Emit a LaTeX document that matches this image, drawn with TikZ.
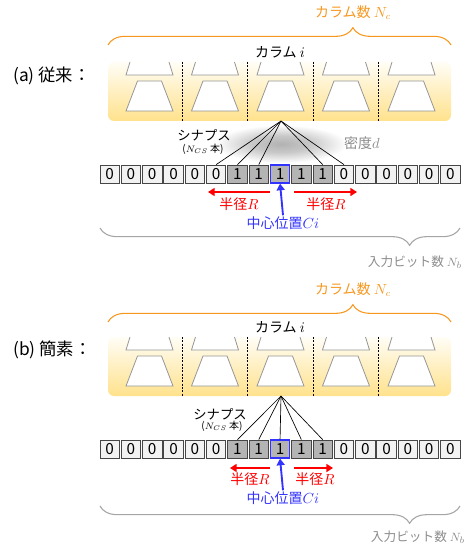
\documentclass[tikz,border=0pt]{standalone}
\usepackage{fontspec}
\usepackage{xcolor}
\usetikzlibrary{arrows.meta,decorations.pathreplacing}
\newfontfamily\jp{Noto Sans CJK JP}

\definecolor{colorange}{RGB}{246,152,32}
\definecolor{bitred}{RGB}{255,0,0}
\definecolor{bitblue}{RGB}{51,51,255}
\definecolor{txtgray}{RGB}{140,140,140}
\definecolor{bracegray}{RGB}{165,165,165}
\definecolor{coltop}{RGB}{255,253,246}
\definecolor{colbot}{RGB}{255,226,140}
\definecolor{densin}{RGB}{178,178,178}
\definecolor{densmid}{RGB}{200,200,200}

\pgfdeclareradialshading{density}{\pgfpoint{0bp}{0bp}}{color(0bp)=(densin); color(11bp)=(densmid); color(25bp)=(white); color(50bp)=(white)}

\tikzset{
  bit/.style={draw={rgb,255:red,70;green,70;blue,70}, line width=0.6pt, minimum width=14.5pt, minimum height=13.5pt, inner sep=0pt, font=\jp\fontsize{11.5}{12}\selectfont},
  bitzero/.style={bit, fill={rgb,255:red,242;green,242;blue,242}},
  bitone/.style={bit, fill={rgb,255:red,180;green,180;blue,180}},
  bitcenter/.style={bitone, draw=bitblue, line width=0.9pt},
  neuron/.style={draw={rgb,255:red,150;green,150;blue,150}, fill=white, line width=0.6pt},
  divider/.style={dash pattern=on 1.5pt off 1pt, line width=0.6pt},
  synapse/.style={line width=0.5pt},
  radarrow/.style={bitred, line width=1.4pt, -{Triangle[length=5pt,width=6pt]}},
  cenarrow/.style={bitblue, line width=1.4pt, -{Triangle[length=5pt,width=6pt]}},
  jtext/.style={inner sep=0.75pt, font=\jp\fontsize{10.5}{12}\selectfont},
}

\begin{document}
\begin{tikzpicture}[x=0.75pt,y=0.75pt,yscale=-1,xscale=1]
\useasboundingbox (0,0) rectangle (472,549);

%Shape: synapse density
\shade[shading=density] (281,144) ellipse [x radius=66, y radius=19];

%Shape: column blocks, neurons and dividers, for (a) and (b)
\foreach \oy in {0,275}{
  \shade[top color=coltop, bottom color=colbot, rounded corners=4.5pt] (108,62+\oy) -- (451,62+\oy) -- (451,121+\oy) -- (108,121+\oy) -- cycle;
  \foreach \cx in {149.5,215,280.5,346,411.5}{
    \draw[neuron] (\cx-19.5,62+\oy) -- (\cx-23.5,75+\oy) -- (\cx+23.5,75+\oy) -- (\cx+19.5,62+\oy);
    \draw[neuron] (\cx-12,81+\oy) -- (\cx+12,81+\oy) -- (\cx+23.5,111+\oy) -- (\cx-23.5,111+\oy) -- cycle;
  }
  \foreach \dx in {182.25,247.75,313.25,378.75}
    \draw[divider] (\dx,62+\oy) -- (\dx,121+\oy);
}

%Shape: input bits
\foreach \p/\oy in {a/0,b/275}{
  \foreach \s/\v [count=\k from 0] in {bitzero/0,bitzero/0,bitzero/0,bitzero/0,bitzero/0,bitzero/0,bitone/1,bitone/1,bitcenter/1,bitone/1,bitone/1,bitzero/0,bitzero/0,bitzero/0,bitzero/0,bitzero/0,bitzero/0}
    \node[\s] (\p\k) at ({109.65+21.3*\k},{174+\oy}) {\v};
}

\coordinate (hubA) at (281,121);
\coordinate (hubB) at (281,396);

% synapses
\foreach \k in {5,6,7,10,11}
  \draw[synapse] (hubA) -- (a\k.north);
\foreach \k in {6,...,10}
  \draw[synapse] (hubB) -- (b\k.north);

% Text Node (a)
\node[jtext, text=colorange] (ncA) at (353,13) {カラム数 $N_c$};
\node[jtext] (colA) at (280,52) {カラム $i$};
\node[jtext, anchor=west, font=\jp\fontsize{13}{15}\selectfont] (lblA) at (12,76) {(a) 従来：};
\node[jtext, font=\jp\fontsize{10}{12}\selectfont] (synA) at (204,135) {シナプス};
\node[jtext, font=\jp\fontsize{7.5}{9}\selectfont] (ncsA) at (203,149) {($N_{CS}$ 本)};
\node[jtext, text=txtgray] (dA) at (362,143) {密度$d$};
\node[jtext, text=bitred] (rlA) at (239,204) {半径$R$};
\node[jtext, text=bitred] (rrA) at (326,204) {半径$R$};
\node[jtext, text=bitblue] (ciA) at (283,223) {中心位置$Ci$};
\node[jtext, text=txtgray, font=\jp\fontsize{9.5}{11}\selectfont] (nbA) at (415,262) {入力ビット数 $N_b$};

% Text Node (b)
\node[jtext, text=colorange] (ncB) at (353,290) {カラム数 $N_c$};
\node[jtext] (colB) at (280,327) {カラム $i$};
\node[jtext, anchor=west, font=\jp\fontsize{13}{15}\selectfont] (lblB) at (12,350) {(b) 簡素：};
\node[jtext, font=\jp\fontsize{10}{12}\selectfont] (synB) at (220,414) {シナプス};
\node[jtext, font=\jp\fontsize{7.5}{9}\selectfont] (ncsB) at (222,426) {($N_{CS}$ 本)};
\node[jtext, text=bitred] (rlB) at (250,479) {半径$R$};
\node[jtext, text=bitred] (rrB) at (315,479) {半径$R$};
\node[jtext, text=bitblue] (ciB) at (283,498) {中心位置$Ci$};
\node[jtext, text=txtgray, font=\jp\fontsize{9.5}{11}\selectfont] (nbB) at (418,537) {入力ビット数 $N_b$};

% radius and centre arrows
\coordinate (rlA0) at (270,192); \coordinate (rlA1) at (208,192);
\coordinate (rrA0) at (294,192); \coordinate (rrA1) at (357,192);
\draw[radarrow] (rlA0) -- (rlA1);
\draw[radarrow] (rrA0) -- (rrA1);
\draw[cenarrow] (ciA.north) -- (a8.south);

\coordinate (rlB0) at (270,468); \coordinate (rlB1) at (230,468);
\coordinate (rrB0) at (294,468); \coordinate (rrB1) at (333,468);
\draw[radarrow] (rlB0) -- (rlB1);
\draw[radarrow] (rrB0) -- (rrB1);
\draw[cenarrow] (ciB.north) -- (b8.south);

% braces
\draw[colorange, line width=0.8pt, decorate, decoration={brace, amplitude=13pt, aspect=0.714}] (108,45) -- (451,45);
\draw[colorange, line width=0.8pt, decorate, decoration={brace, amplitude=13pt, aspect=0.714}] (108,322) -- (451,322);
\draw[bracegray, line width=0.8pt, decorate, decoration={brace, mirror, amplitude=13pt, aspect=0.86}] (100,228) -- (460,228);
\draw[bracegray, line width=0.8pt, decorate, decoration={brace, mirror, amplitude=13pt, aspect=0.86}] (100,506) -- (460,506);

\end{tikzpicture}
\end{document}
